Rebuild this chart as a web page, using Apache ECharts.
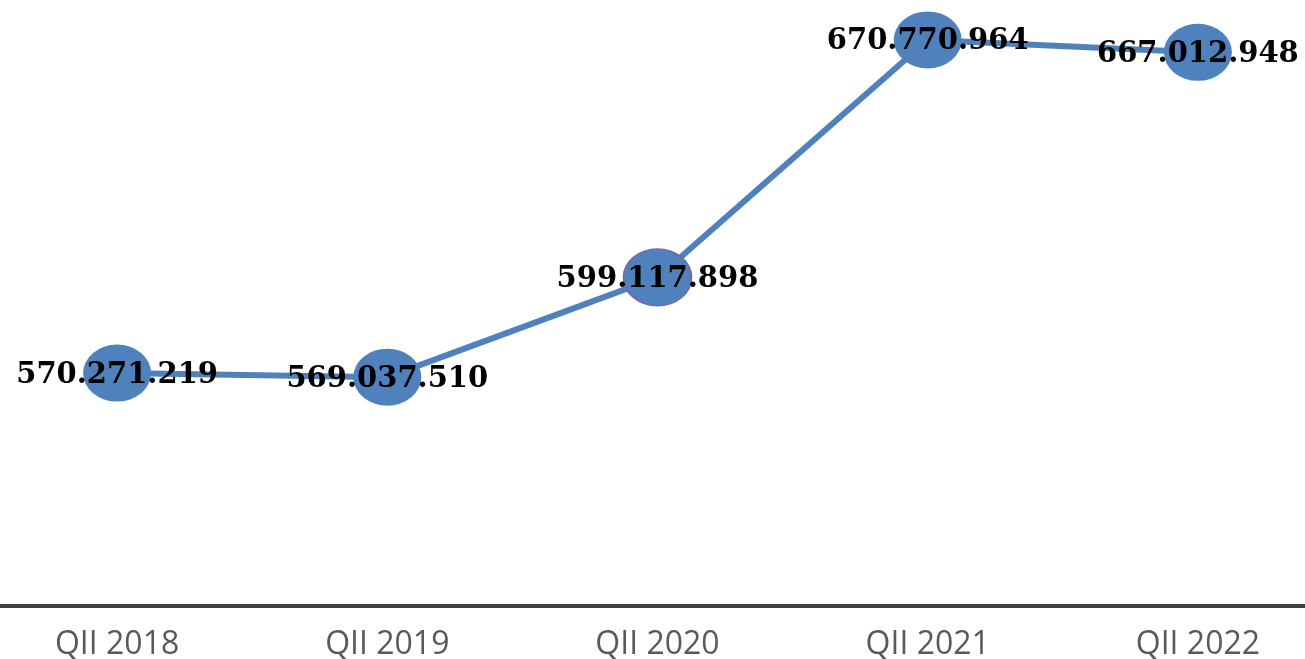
<!DOCTYPE html>
<html>
<head>
<meta charset="utf-8">
<script src="https://cdn.jsdelivr.net/npm/echarts@6/dist/echarts.min.js"></script>
<style>
  html, body { margin: 0; padding: 0; background: #fff; }
  #lineChart { width: 1305px; height: 659px; }
</style>
</head>
<body>
<div id="lineChart"></div>
<script>
var kategori = ["QII 2018", "QII 2019", "QII 2020", "QII 2021", "QII 2022"];
var nilai = [570271219, 569037510, 599117898, 670770964, 667012948];

// format angka pakai titik sebagai pemisah ribuan
function formatTitik(v) {
  return String(v).replace(/\B(?=(\d{3})+(?!\d))/g, ".");
}

var dataTitik = nilai.map(function (v, i) {
  var item = { value: v };
  if (i === 2) {
    item.itemStyle = { borderColor: "#8064a2", borderWidth: 1.5 };
  }
  return item;
});

var lineChart = echarts.init(document.getElementById("lineChart"));

var option = {
  animation: false,
  grid: {
    left: -18,
    width: 1351,
    top: -57,
    height: 663,
    outerBoundsMode: "none",
    containLabel: false,
  },
  xAxis: {
    type: "category",
    data: kategori,
    boundaryGap: true,
    axisLine: {
      show: true,
      lineStyle: { color: "#404040", width: 4 },
    },
    axisTick: { show: false },
    axisLabel: {
      margin: 23,
      color: "#595959",
      fontFamily: "Open Sans",
      fontSize: 32,
    },
  },
  yAxis: {
    type: "value",
    min: 500000000,
    max: 700000000,
    show: false,
    splitLine: { show: false },
  },
  series: [
    {
      type: "line",
      data: dataTitik,
      symbol: "circle",
      symbolSize: [68, 57],
      lineStyle: { color: "#4f81bd", width: 6 },
      itemStyle: { color: "#4f81bd" },
      label: {
        show: true,
        position: "inside",
        offset: [0, 2],
        formatter: function (p) {
          return formatTitik(p.value);
        },
        color: "#000",
        fontFamily: "DejaVu Serif",
        fontWeight: "bold",
        fontSize: 29,
      },
    },
  ],
};

lineChart.setOption(option);
</script>
</body>
</html>
